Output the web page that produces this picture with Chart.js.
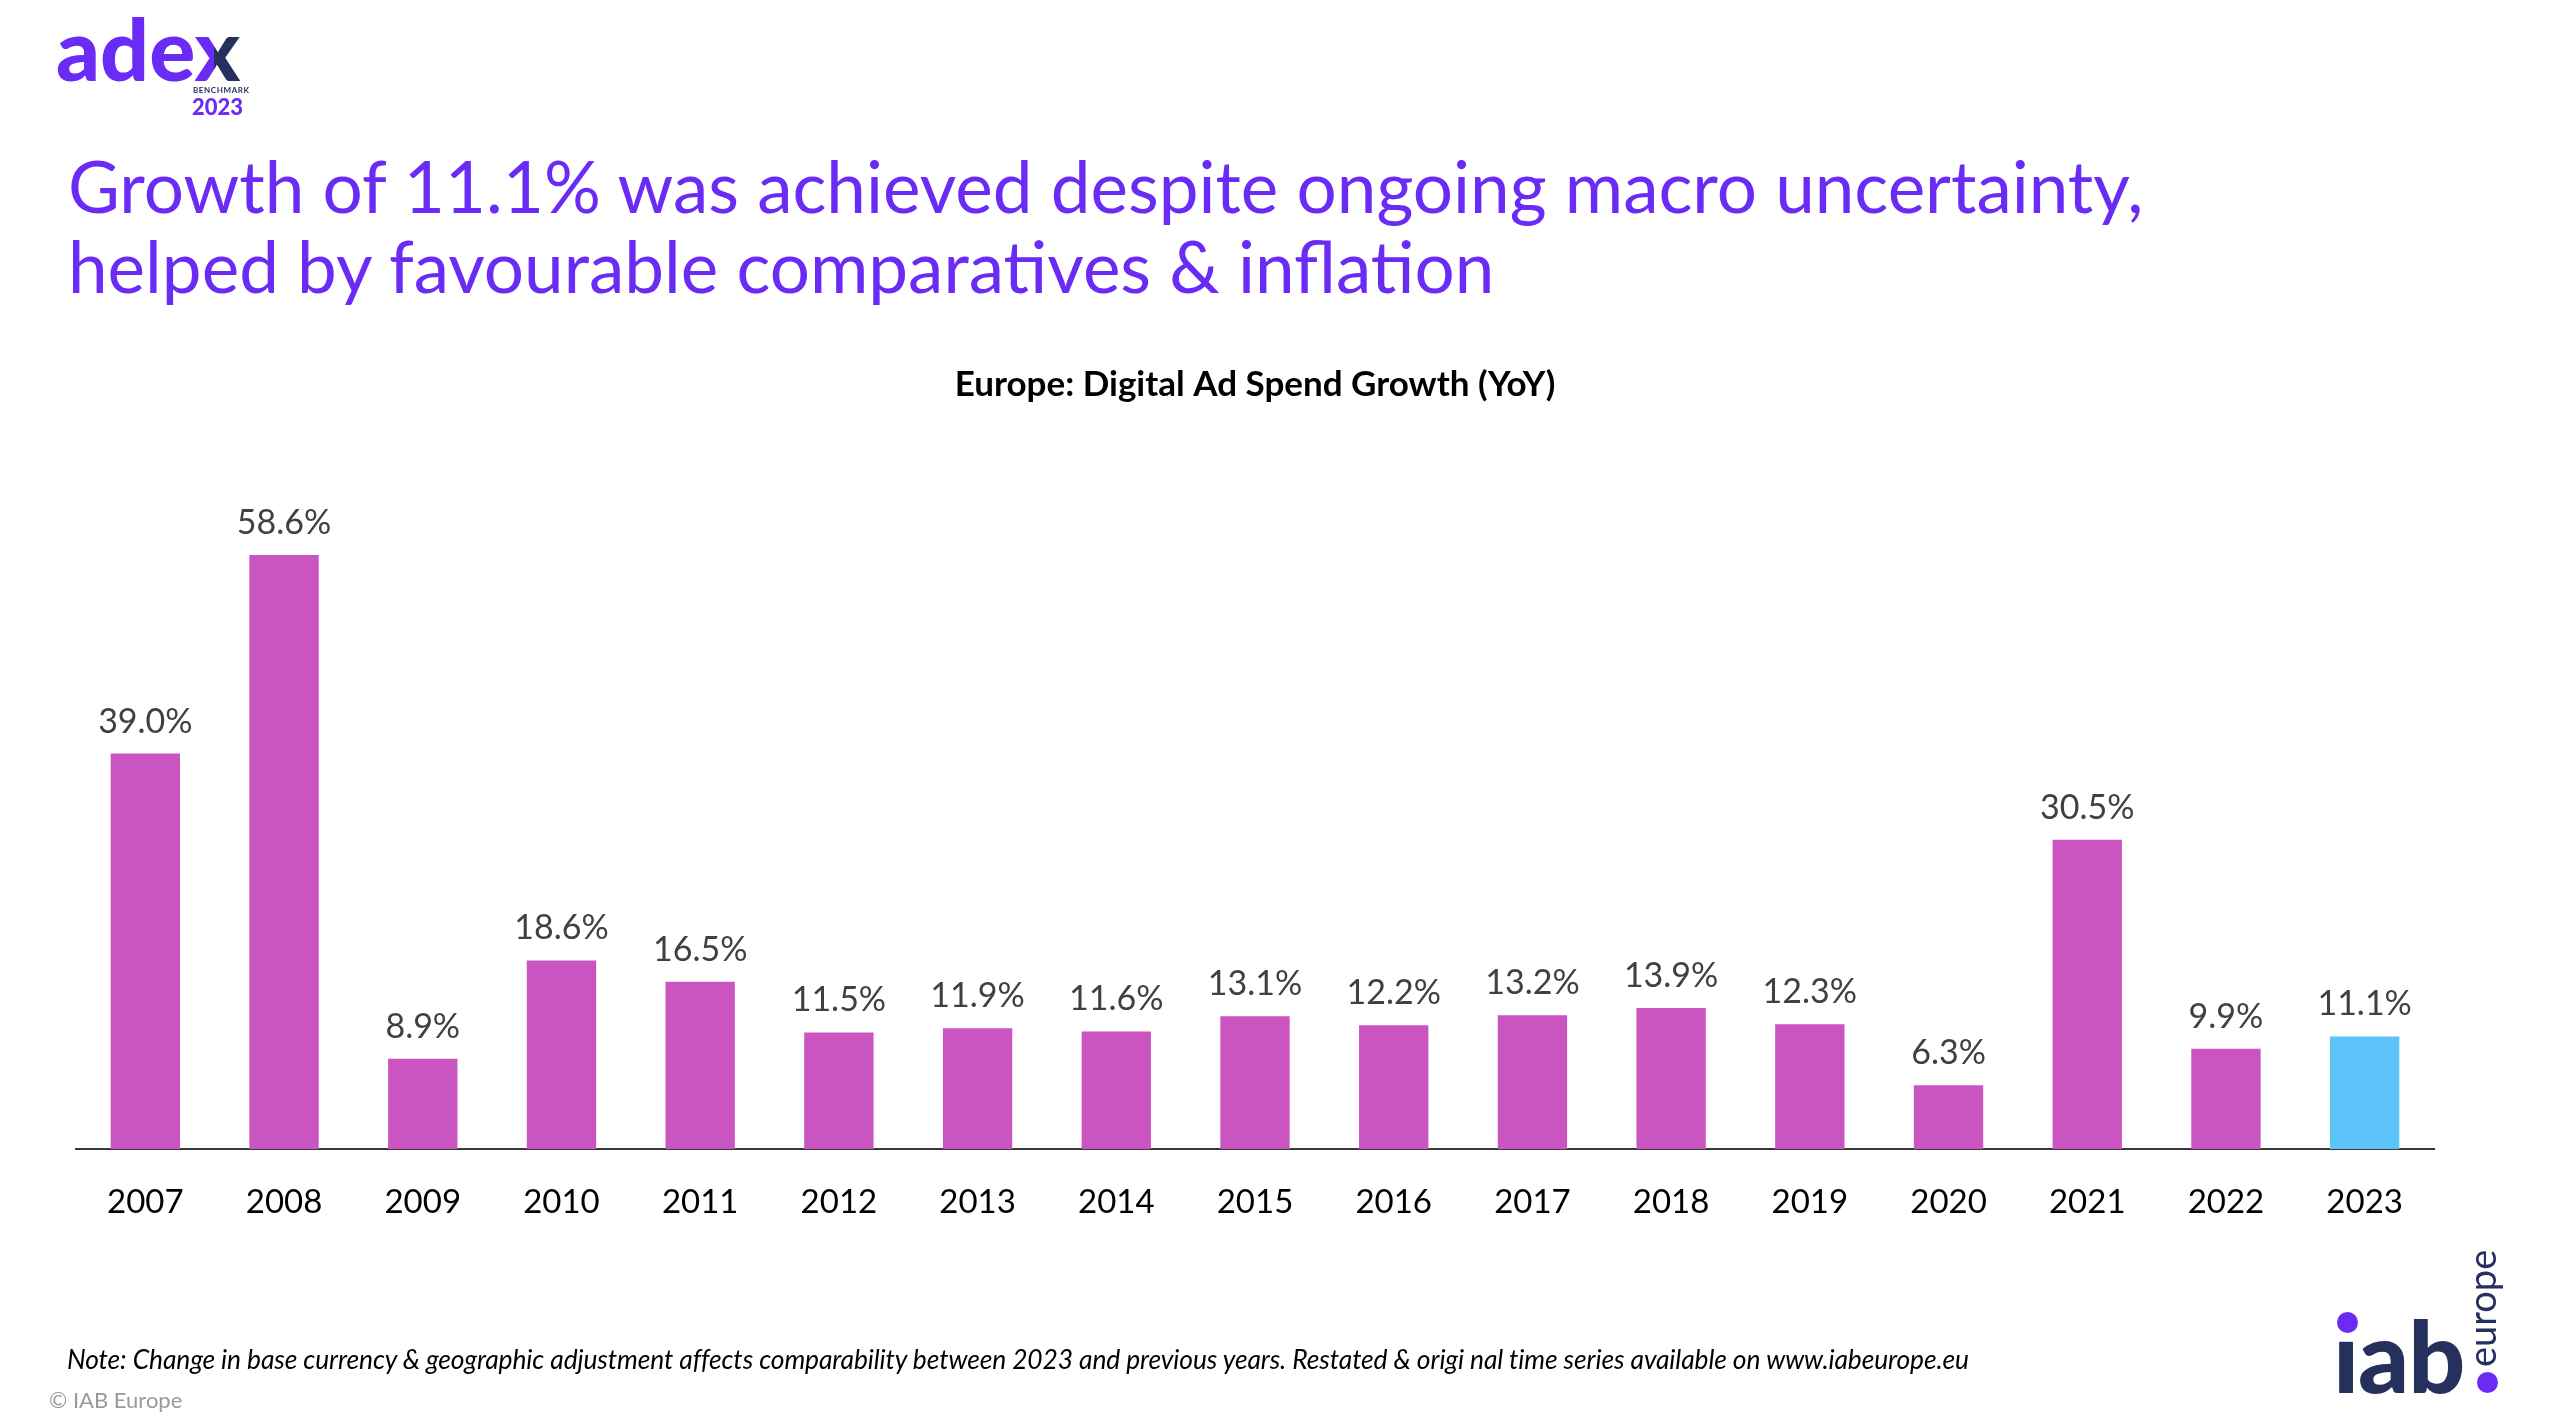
<!DOCTYPE html>
<html>
<head>
<meta charset="utf-8">
<script src="https://cdn.jsdelivr.net/npm/chart.js@4.4.1/dist/chart.umd.min.js"></script>
<style>
  html, body { margin: 0; padding: 0; background: #ffffff; }
  body { width: 2550px; height: 1424px; position: relative; overflow: hidden; font-family: Lato, "Open Sans", sans-serif; }
  #chart { position: absolute; left: 0; top: 0; }
  .abs { position: absolute; white-space: nowrap; line-height: 1.2; }
  #adex { left: 56px; top: -4px; font-size: 86px; font-weight: 900; color: #6a2cf5; letter-spacing: 0px; }
  #adex .x { background: linear-gradient(90deg, #6a2cf5 0%, #6a2cf5 42%, #25305c 42%, #25305c 100%); -webkit-background-clip: text; background-clip: text; color: transparent; }
  #bench { left: 193px; top: 86px; font-size: 8px; font-weight: 700; color: #25305c; letter-spacing: 0.6px; }
  #year { left: 192px; top: 94px; font-size: 22px; font-weight: 900; color: #6a2cf5; }
  #title { left: 68px; top: 146px; font-size: 71px; line-height: 80px; color: #6a2cf5; font-weight: 400; }
  #note { left: 67px; top: 1344px; font-size: 26.4px; font-style: italic; color: #000; letter-spacing: -0.1px; }
  #copy { left: 49px; top: 1387px; font-size: 22px; color: #9a9a9a; }
  #iab { left: 2333px; top: 1294px; font-size: 100px; font-weight: 900; color: #25305c; letter-spacing: -1px; }
  #europe { left: 2459px; top: 1367px; font-size: 38px; color: #25305c; transform: rotate(-90deg); transform-origin: 0 0; }
  .dot { position: absolute; width: 21px; height: 21px; border-radius: 50%; background: #6a2cf5; }
</style>
</head>
<body>
<canvas id="chart" width="2550" height="1424"></canvas>

<div class="abs" id="adex">ade<span class="x">x</span></div>
<div class="abs" id="bench">BENCHMARK</div>
<div class="abs" id="year">2023</div>

<div class="abs" id="title">Growth of 11.1% was achieved despite ongoing macro uncertainty,<br>helped by favourable comparatives &amp; inflation</div>

<div class="abs" id="note">Note: Change in base currency &amp; geographic adjustment affects comparability between 2023 and previous years. Restated &amp; origi nal time series available on www.iabeurope.eu</div>
<div class="abs" id="copy">© IAB Europe</div>

<div class="abs" id="iab">ıab</div>
<div class="dot" style="left:2337px; top:1312px;"></div>
<div class="dot" style="left:2477px; top:1372px;"></div>
<div class="abs" id="europe">europe</div>

<script>
// ---- Data ----
const categories = ['2007', '2008', '2009', '2010', '2011', '2012', '2013', '2014', '2015', '2016', '2017', '2018', '2019', '2020', '2021', '2022', '2023'];
const growthValues = [39.0, 58.6, 8.9, 18.6, 16.5, 11.5, 11.9, 11.6, 13.1, 12.2, 13.2, 13.9, 12.3, 6.3, 30.5, 9.9, 11.1];
const highlightCategory = '2023';
const chartTitle = 'Europe: Digital Ad Spend Growth (YoY)';
const yRange = [0, 65];

// ---- Styles ----
const BAR_COLOR = '#cb55c0';
const HIGHLIGHT_COLOR = '#5cc4f9';
const FONT = 'Lato, "Open Sans", sans-serif';

const valueLabels = {
  id: 'valueLabels',
  afterDatasetsDraw(chart) {
    const ctx = chart.ctx;
    const meta = chart.getDatasetMeta(0);
    ctx.save();
    ctx.font = '34px ' + FONT;
    ctx.fillStyle = '#404040';
    ctx.textAlign = 'center';
    ctx.textBaseline = 'alphabetic';
    meta.data.forEach((bar, i) => {
      const v = chart.data.datasets[0].data[i];
      ctx.fillText(v.toFixed(1) + '%', bar.x, bar.y - 21);
    });
    ctx.restore();
  }
};

new Chart(document.getElementById('chart'), {
  type: 'bar',
  data: {
    labels: categories,
    datasets: [{
      data: growthValues,
      backgroundColor: (c) => categories[c.dataIndex] === highlightCategory ? HIGHLIGHT_COLOR : BAR_COLOR,
      borderWidth: 0,
      barPercentage: 0.5,
      categoryPercentage: 1.0
    }]
  },
  options: {
    responsive: false,
    devicePixelRatio: 1,
    animation: false,
    layout: { padding: { left: 76, right: 116, top: 0, bottom: 155 } },
    plugins: {
      legend: { display: false },
      tooltip: { enabled: false },
      title: {
        display: true,
        text: chartTitle,
        color: '#000000',
        font: { family: FONT, size: 35, weight: 'bold' },
        padding: { top: 364, bottom: 84 }
      }
    },
    scales: {
      x: {
        grid: { display: false, drawTicks: false },
        border: { display: true, color: '#3a3a3a', width: 2 },
        ticks: { color: '#000000', font: { family: FONT, size: 33 }, padding: 34, maxRotation: 0, autoSkip: false },
        afterFit: (s) => { s.height = 120; }
      },
      y: {
        display: false,
        min: yRange[0],
        max: yRange[1]
      }
    }
  },
  plugins: [valueLabels]
});
</script>
</body>
</html>
